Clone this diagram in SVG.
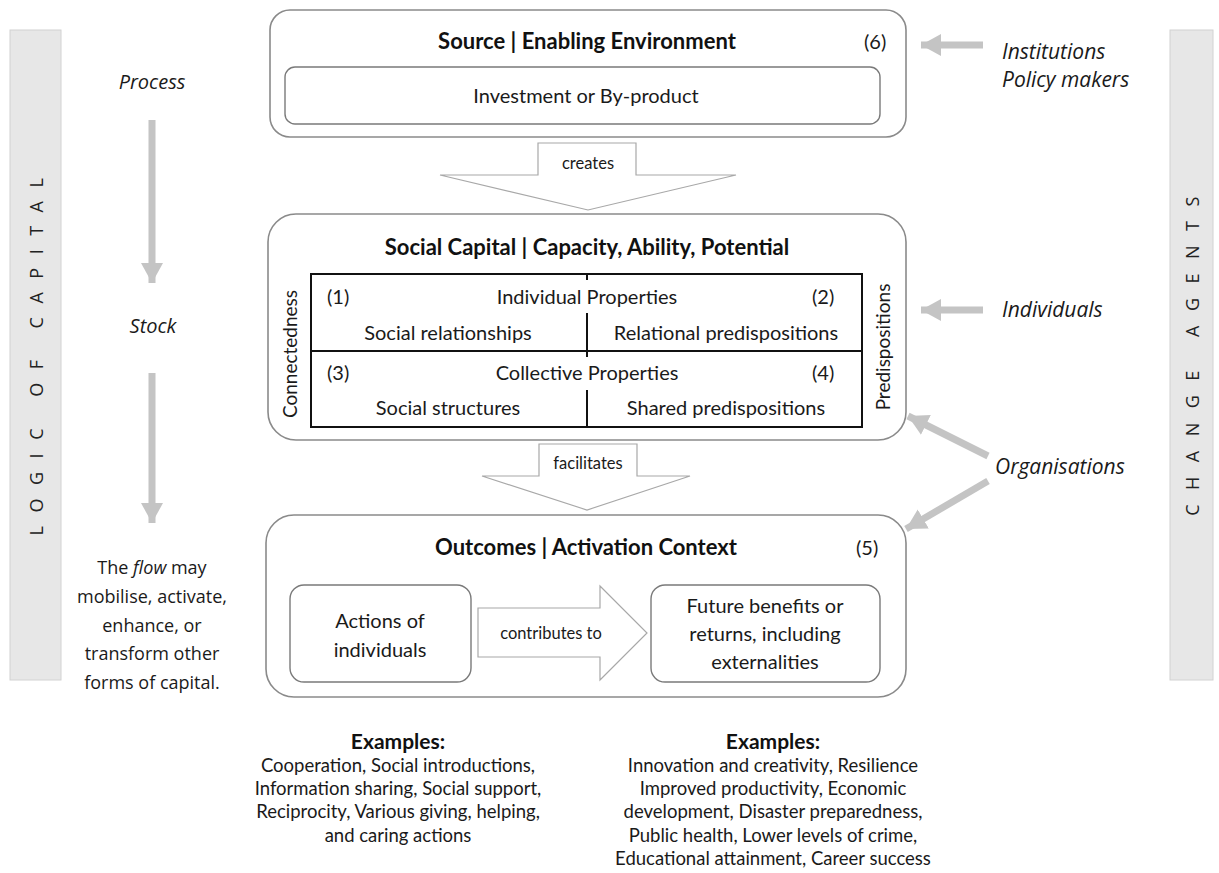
<svg xmlns="http://www.w3.org/2000/svg" width="1219" height="873" viewBox="0 0 1219 873">
<style>
.box{fill:#fff;stroke:#8a8a8a;stroke-width:1.6}
.inner{fill:#fff;stroke:#7a7a7a;stroke-width:1.4}
.bar{fill:#e7e7e7;stroke:#d2d2d2;stroke-width:1}
.blk{fill:#fff;stroke:#a8a8a8;stroke-width:1.2}
.grid{fill:none;stroke:#111;stroke-width:2}
.t{font-family:Lato,"Liberation Sans",sans-serif;font-size:20px;fill:#1a1a1a}
.v{font-family:Lato,"Liberation Sans",sans-serif;font-size:19px;fill:#1a1a1a}
.b{font-family:Lato,"Liberation Sans",sans-serif;font-size:22px;font-weight:bold;fill:#111}
.s{font-family:Lato,"Liberation Sans",sans-serif;font-size:16.5px;fill:#1a1a1a}
.i{font-family:"Open Sans","DejaVu Sans",sans-serif;font-size:21px;font-style:italic;fill:#1a1a1a}
.il{font-family:"Open Sans","DejaVu Sans",sans-serif;font-size:20px;font-style:italic;fill:#1a1a1a}
.o{font-family:"Open Sans","DejaVu Sans",sans-serif;font-size:18px;fill:#1a1a1a}
.sp{font-family:"Open Sans","DejaVu Sans",sans-serif;font-size:18px;fill:#222}
.e{font-family:Lato,"Liberation Sans",sans-serif;font-size:18.5px;fill:#1a1a1a}
.eb{font-family:Lato,"Liberation Sans",sans-serif;font-size:21px;font-weight:bold;fill:#111}
.ga{stroke:#c4c4c4;stroke-width:7;fill:none}
.m{text-anchor:middle}
</style>
<defs>
<marker id="gh" markerUnits="userSpaceOnUse" markerWidth="24" markerHeight="24" refX="20" refY="12" orient="auto">
<path d="M0,1 L20,12 L0,23 Z" fill="#c4c4c4"/>
</marker>
</defs>

<g id="logic-bar">
<rect class="bar" x="10" y="30" width="51" height="650"/>
<text class="sp m" letter-spacing="13.5" transform="translate(43,350) rotate(-90)">LOGIC OF CAPITAL</text>
</g>
<g id="change-bar">
<rect class="bar" x="1170" y="30" width="43" height="650"/>
<text class="sp m" letter-spacing="14.5" transform="translate(1199,349) rotate(-90)">CHANGE AGENTS</text>
</g>

<g id="source">
<rect class="box" x="270" y="10" width="636" height="127" rx="20"/>
<text class="b m" x="587" y="49">Source | Enabling Environment</text>
<text class="t" x="864" y="49">(6)</text>
<rect class="inner" x="285" y="67" width="595" height="57" rx="10"/>
<text class="t m" x="586" y="103">Investment or By-product</text>
</g>

<g id="social-capital">
<rect class="box" x="268" y="214" width="638" height="226" rx="28"/>
<text class="b m" x="587" y="255">Social Capital | Capacity, Ability, Potential</text>
<rect class="grid" x="311" y="274" width="551" height="153"/>
<line class="grid" x1="311" y1="351" x2="862" y2="351"/>
<line class="grid" x1="587" y1="274" x2="587" y2="280"/>
<line class="grid" x1="587" y1="313" x2="587" y2="357"/>
<line class="grid" x1="587" y1="390" x2="587" y2="427"/>
<text class="t" x="327" y="304">(1)</text>
<text class="t m" x="587" y="304">Individual Properties</text>
<text class="t" x="812" y="304">(2)</text>
<text class="t m" x="448" y="340">Social relationships</text>
<text class="t m" x="726" y="340">Relational predispositions</text>
<text class="t" x="327" y="380">(3)</text>
<text class="t m" x="587" y="380">Collective Properties</text>
<text class="t" x="812" y="380">(4)</text>
<text class="t m" x="448" y="415">Social structures</text>
<text class="t m" x="726" y="415">Shared predispositions</text>
<text class="v m" transform="translate(297,354) rotate(-90)">Connectedness</text>
<text class="v m" transform="translate(890,347) rotate(-90)">Predispositions</text>
</g>

<g id="outcomes">
<rect class="box" x="266" y="515" width="640" height="182" rx="28"/>
<text class="b m" x="586" y="555">Outcomes | Activation Context</text>
<text class="t" x="856" y="555">(5)</text>
<rect class="inner" x="290" y="585" width="181" height="97" rx="14"/>
<text class="t m" x="380" y="628">Actions of</text>
<text class="t m" x="380" y="657">individuals</text>
<rect class="inner" x="651" y="585" width="229" height="97" rx="14"/>
<text class="t m" x="765" y="613">Future benefits or</text>
<text class="t m" x="765" y="641">returns, including</text>
<text class="t m" x="765" y="669">externalities</text>
</g>

<g id="left-labels">
<text class="il m" x="152" y="89">Process</text>
<text class="il m" x="153" y="333">Stock</text>
<text class="o m" x="152" y="574">The <tspan font-style="italic">flow</tspan> may</text>
<text class="o m" x="152" y="603">mobilise, activate,</text>
<text class="o m" x="152" y="632">enhance, or</text>
<text class="o m" x="152" y="660">transform other</text>
<text class="o m" x="152" y="689">forms of capital.</text>
</g>

<g id="agents">
<text class="i" x="1002" y="59">Institutions</text>
<text class="i" x="1002" y="87">Policy makers</text>
<text class="i" x="1002" y="317">Individuals</text>
<text class="i" x="995" y="474">Organisations</text>
</g>

<g id="examples-left">
<text class="eb m" x="398" y="749">Examples:</text>
<text class="e m" x="398" y="772">Cooperation, Social introductions,</text>
<text class="e m" x="398" y="795">Information sharing, Social support,</text>
<text class="e m" x="398" y="818">Reciprocity, Various giving, helping,</text>
<text class="e m" x="398" y="842">and caring actions</text>
</g>
<g id="examples-right">
<text class="eb m" x="773" y="749">Examples:</text>
<text class="e m" x="773" y="772">Innovation and creativity, Resilience</text>
<text class="e m" x="773" y="795">Improved productivity, Economic</text>
<text class="e m" x="773" y="818">development, Disaster preparedness,</text>
<text class="e m" x="773" y="842">Public health, Lower levels of crime,</text>
<text class="e m" x="773" y="865">Educational attainment, Career success</text>
</g>

<g id="connectors">
<path class="blk" d="M538,143 L636,143 L636,175 L736,175 L588,210 L440,175 L538,175 Z"/>
<text class="s m" x="588" y="169">creates</text>
<path class="blk" d="M539,444 L637,444 L637,476 L690,476 L587,510 L482,476 L539,476 Z"/>
<text class="s m" x="588" y="469">facilitates</text>
<path class="blk" d="M478,608 L600,608 L600,586 L647,633 L600,680 L600,657 L478,657 Z"/>
<text class="s m" x="551" y="639">contributes to</text>

<line class="ga" x1="152" y1="120" x2="152" y2="283" marker-end="url(#gh)"/>
<line class="ga" x1="152" y1="373" x2="152" y2="523" marker-end="url(#gh)"/>
<line class="ga" x1="983" y1="45" x2="921" y2="45" marker-end="url(#gh)"/>
<line class="ga" x1="983" y1="310" x2="921" y2="310" marker-end="url(#gh)"/>
<line class="ga" x1="988" y1="456" x2="908" y2="416" marker-end="url(#gh)"/>
<line class="ga" x1="988" y1="481" x2="906" y2="529" marker-end="url(#gh)"/>
</g>
</svg>
